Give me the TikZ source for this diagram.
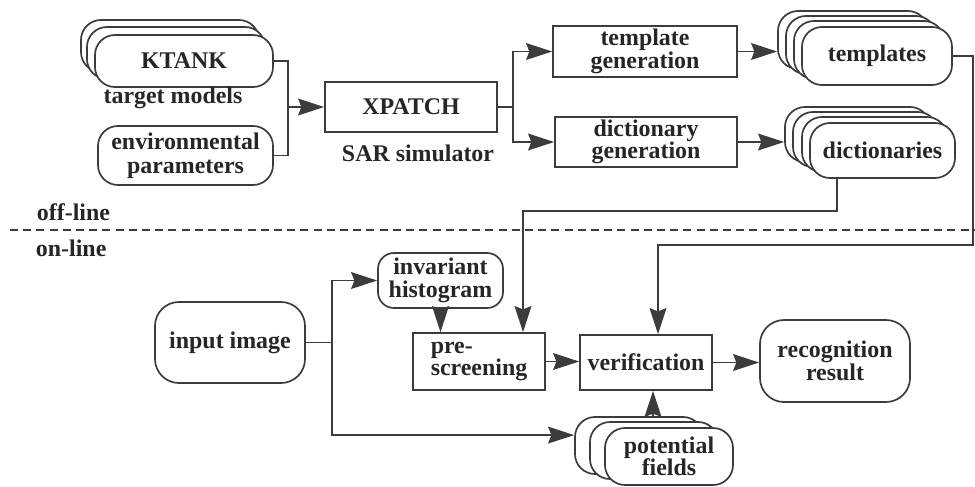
\documentclass[tikz,border=0pt]{standalone}
\usepackage{fontspec}
\setmainfont{Liberation Serif}
\newfontfamily\diagfont{Liberation Serif}
\usetikzlibrary{arrows.meta}
\definecolor{ink}{HTML}{3C3C3C}

\begin{document}
\begin{tikzpicture}[
    x=0.025cm, y=-0.025cm,
    every node/.style={font=\diagfont\bfseries\fontsize{17}{19}\selectfont, text=black!85},
    box/.style={draw=ink, line width=1.2pt, fill=white, align=center, inner sep=2pt},
    pill/.style={box, rounded corners=0.5cm},
    wire/.style={draw=ink, line width=1.2pt},
    arr/.style={wire, -{Stealth[length=0.65cm, width=0.42cm, inset=0.08cm]}},
]
\useasboundingbox (0,0) rectangle (975,487);

% Off-line: target models and parameters
\node[pill, minimum width=4.45cm, minimum height=1.3cm] (ktankc) at (170,46) {};
\node[pill, minimum width=4.45cm, minimum height=1.3cm] (ktankb) at (176,53) {};
\node[pill, minimum width=4.45cm, minimum height=1.3cm] (ktank) at (184,61) {KTANK};
\node (models) at (173,98) {target models};
\node[pill, minimum width=4.375cm, minimum height=1.475cm] (env) at (185.5,155.5) {environmental\\[-2pt]parameters};

% Simulator and generation
\node[box, minimum width=4.3cm, minimum height=1.25cm] (xpatch) at (411,107) {XPATCH};
\node (sar) at (418,153) {SAR simulator};
\node[box, minimum width=4.6cm, minimum height=1.275cm] (tgen) at (645,51.5) {template\\[-3pt]generation};
\node[box, minimum width=4.55cm, minimum height=1.25cm] (dgen) at (646,142) {dictionary\\[-3pt]generation};

% Stacks of templates and dictionaries
\node[pill, minimum width=3.75cm, minimum height=1.45cm] (tmpld) at (853,40) {};
\node[pill, minimum width=3.75cm, minimum height=1.45cm] (tmplc) at (861,45) {};
\node[pill, minimum width=3.75cm, minimum height=1.45cm] (tmplb) at (869,50) {};
\node[pill, minimum width=3.75cm, minimum height=1.45cm] (tmpl) at (877,56) {templates};
\node[pill, minimum width=3.625cm, minimum height=1.375cm] (dictd) at (857.5,134.5) {};
\node[pill, minimum width=3.625cm, minimum height=1.375cm] (dictc) at (865.5,139.5) {};
\node[pill, minimum width=3.625cm, minimum height=1.375cm] (dictb) at (874.5,144.5) {};
\node[pill, minimum width=3.625cm, minimum height=1.375cm] (dict) at (882.5,150.5) {dictionaries};

% Separator
\node[anchor=west] (offl) at (32,212) {off-line};
\node[anchor=west] (onl) at (31,248) {on-line};
\coordinate (sepl) at (10,230);
\coordinate (sepr) at (975,230);
\draw[wire, dash pattern=on 0.2cm off 0.13cm] (sepl) -- (sepr);

% On-line: recognition chain
\node[pill, rounded corners=0.6cm, minimum width=3.75cm, minimum height=2.025cm] (input) at (230,342.5) {input image};
\node[pill, rounded corners=0.4cm, minimum width=3.125cm, minimum height=1.375cm] (hist) at (440.5,280.5) {invariant\\[-3pt]histogram};
\node[box, align=left, minimum width=3.3cm, minimum height=1.425cm] (pre) at (479,361.5) {pre-\\[-3pt]screening};
\node[box, minimum width=3.3cm, minimum height=1.375cm] (verif) at (646,362.5) {verification};
\node[pill, rounded corners=0.6cm, minimum width=3.75cm, minimum height=2.05cm] (result) at (835,361) {recognition\\[-3pt]result};
\node[pill, minimum width=3.2cm, minimum height=1.425cm] (potc) at (639,445.5) {};
\node[pill, minimum width=3.2cm, minimum height=1.425cm] (potb) at (654,450.5) {};
\node[pill, minimum width=3.2cm, minimum height=1.425cm] (pot) at (669,456.5) {potential\\[-3pt]fields};

% Off-line arrows
\coordinate (kj) at (288,107);
\draw[wire] (ktank.east) -| (kj) |- (env.east);
\draw[arr] (kj) -- (xpatch.west);
\coordinate (xj) at (513,107);
\draw[wire] (xpatch.east) -- (xj);
\draw[arr] (xj) |- (tgen.west);
\draw[arr] (xj) |- (dgen.west);
\draw[arr] (tgen.east) -- (tgen.east -| tmpld.west);
\draw[arr] (dgen.east) -- (dgen.east -| dictd.west);

% Feeds across the line
\coordinate (tturn) at (973,245);
\draw[arr] (tmpl.east) -| (tturn) -| ([xshift=0.3cm]verif.north);
\coordinate (dturn) at (523,211);
\draw[arr] ([xshift=-1.14cm]dict.south) |- (dturn) -- (dturn |- pre.north);

% On-line arrows
\coordinate (ij) at (332,342.5);
\draw[wire] (input.east) -- (ij);
\draw[arr] (ij) |- (hist.west);
\draw[arr] (ij) |- ([yshift=0.26cm]potc.west);
\draw[arr] (hist.south) -- (hist.south |- pre.north);
\draw[arr] (pre.east) -- (pre.east -| verif.west);
\draw[arr] (verif.east) -- (verif.east -| result.west);
\coordinate (vin) at ([xshift=0.175cm]verif.south);
\draw[arr] (vin |- potc.north) -- (vin);

\end{tikzpicture}
\end{document}
